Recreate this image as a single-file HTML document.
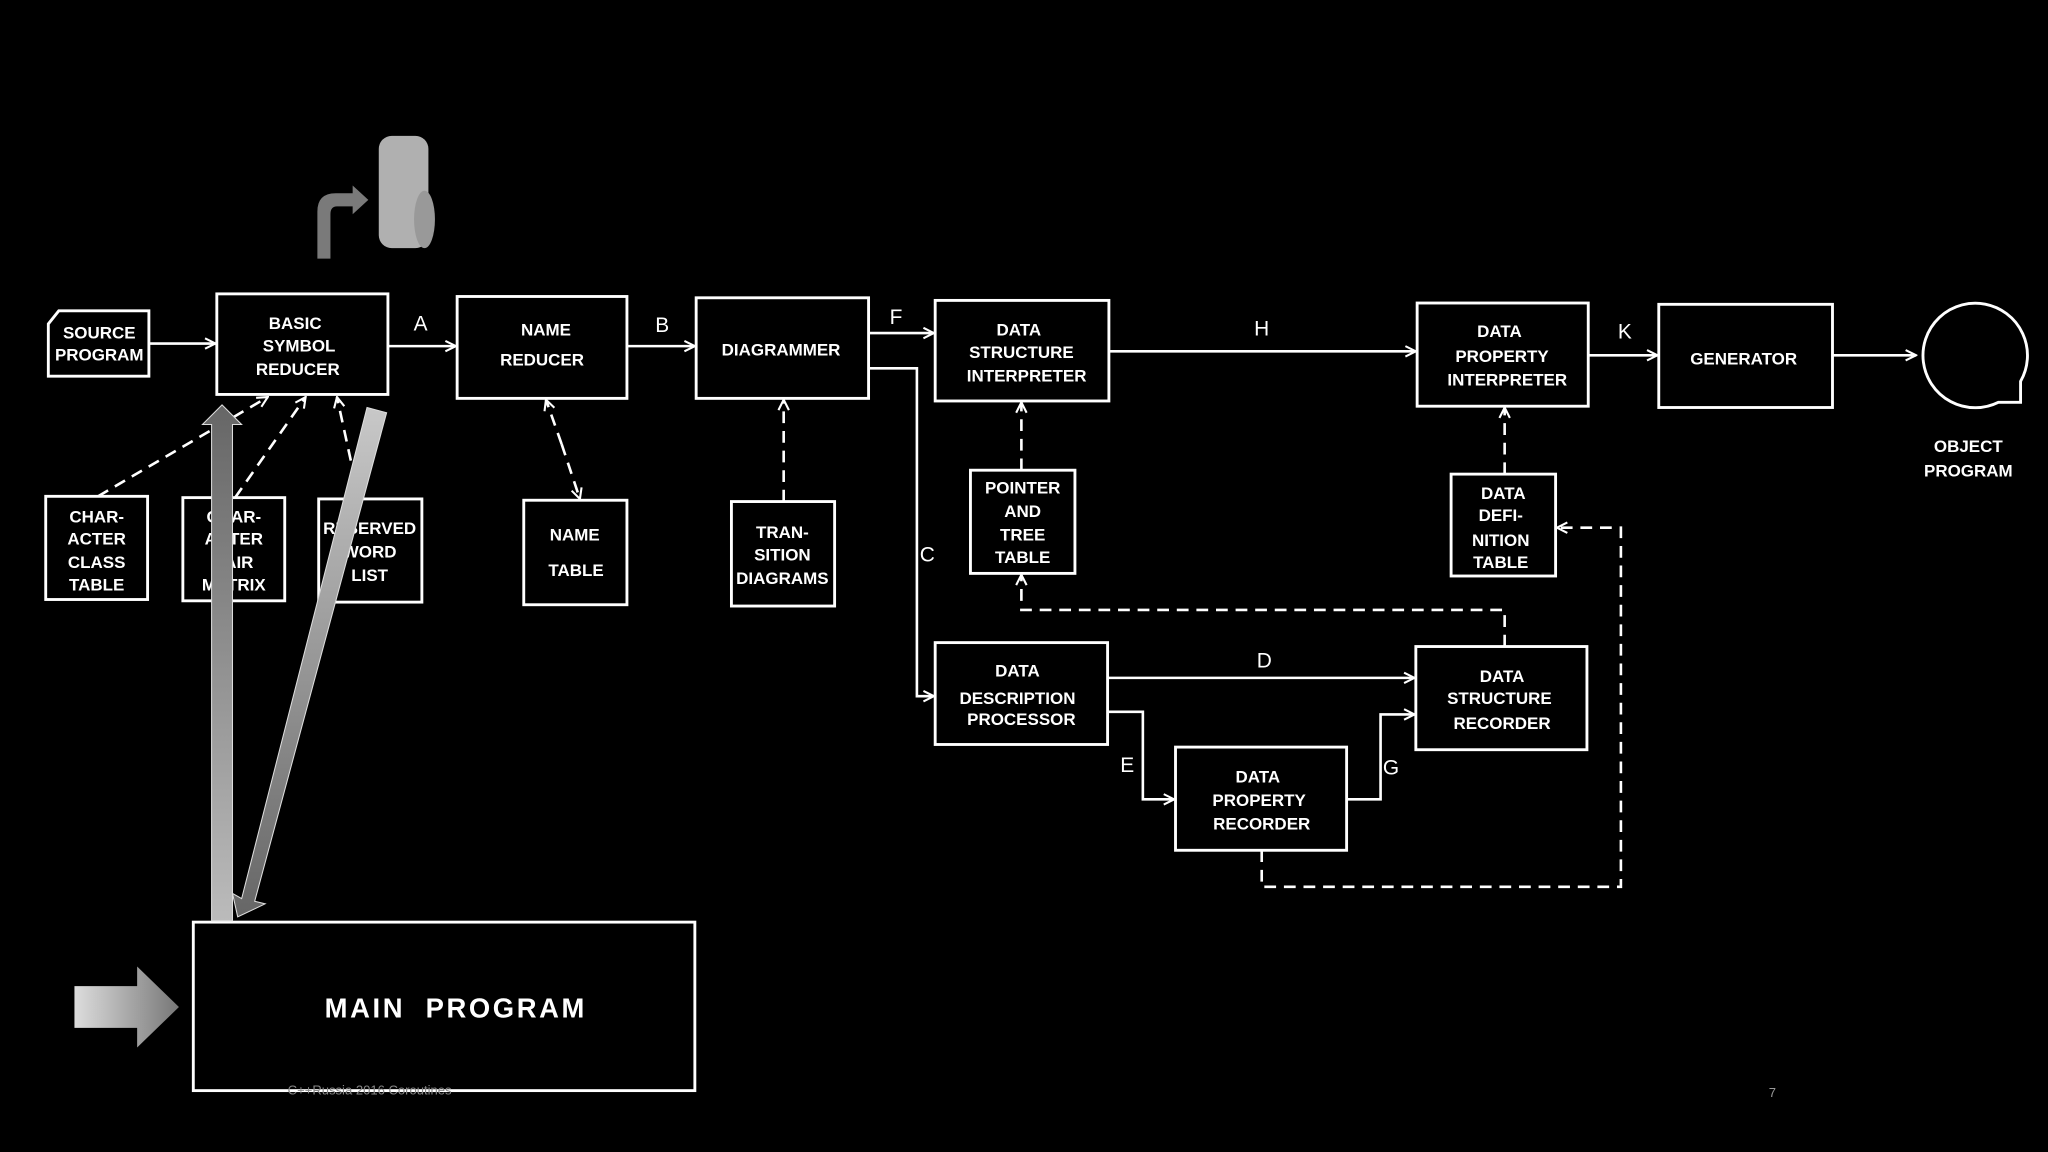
<!DOCTYPE html>
<html><head><meta charset="utf-8"><style>
html,body{margin:0;padding:0;background:#000;width:2048px;height:1152px;overflow:hidden}
svg{display:block}
text{font-family:"Liberation Sans",sans-serif;font-weight:bold;fill:#fff;text-anchor:middle}
.b{fill:none;stroke:#fff;stroke-width:2.2}
.l{fill:none;stroke:#fff;stroke-width:2}
.d{fill:none;stroke:#fff;stroke-width:2;stroke-dasharray:9 6}
.t{font-size:13px;letter-spacing:0}
.lab{font-size:16px;font-weight:normal}
</style></head><body>
<svg width="2048" height="1152" viewBox="0 0 1568 882" xmlns="http://www.w3.org/2000/svg">
<defs>
<marker id="a" markerWidth="10" markerHeight="10" refX="9" refY="5" orient="auto" markerUnits="userSpaceOnUse"><path d="M1,1 L9,5 L1,9" fill="none" stroke="#fff" stroke-width="1.6"/></marker>
<linearGradient id="g1" x1="0" y1="0" x2="0" y2="1"><stop offset="0" stop-color="#666"/><stop offset="1" stop-color="#bbb"/></linearGradient>
<linearGradient id="g2" x1="0" y1="0" x2="0" y2="1"><stop offset="0" stop-color="#c8c8c8"/><stop offset="1" stop-color="#666"/></linearGradient>
<linearGradient id="g3" x1="0" y1="0" x2="1" y2="0"><stop offset="0" stop-color="#ddd"/><stop offset="1" stop-color="#777"/></linearGradient>
</defs>

<path class="b" d="M45,238 L114,238 L114,288 L37,288 L37,248 Z"/>
<text class="t" x="76" y="259">SOURCE</text><text class="t" x="76" y="276">PROGRAM</text>
<rect class="b" x="166" y="225" width="131" height="77"/>
<text class="t" x="226" y="252">BASIC</text><text class="t" x="229" y="269">SYMBOL</text><text class="t" x="228" y="287">REDUCER</text>
<rect class="b" x="350" y="227" width="130" height="78"/>
<text class="t" x="418" y="257">NAME</text><text class="t" x="415" y="280">REDUCER</text>
<rect class="b" x="533" y="228" width="132" height="77"/>
<text class="t" x="598" y="272">DIAGRAMMER</text>
<rect class="b" x="716" y="230" width="133" height="77"/>
<text class="t" x="780" y="257">DATA</text><text class="t" x="782" y="274">STRUCTURE</text><text class="t" x="786" y="292">INTERPRETER</text>
<rect class="b" x="1085" y="232" width="131" height="79"/>
<text class="t" x="1148" y="258">DATA</text><text class="t" x="1150" y="277">PROPERTY</text><text class="t" x="1154" y="295">INTERPRETER</text>
<rect class="b" x="1270" y="233" width="133" height="79"/>
<text class="t" x="1335" y="279">GENERATOR</text>
<path class="b" d="M1547,308 L1547,292 A40,40 0 1 0 1530,308 Z"/>
<text class="t" x="1507" y="346">OBJECT</text><text class="t" x="1507" y="365">PROGRAM</text>

<rect class="b" x="35" y="380" width="78" height="79"/>
<text class="t" x="74" y="400">CHAR-</text><text class="t" x="74" y="417">ACTER</text><text class="t" x="74" y="435">CLASS</text><text class="t" x="74" y="452">TABLE</text>
<rect class="b" x="140" y="381" width="78" height="79"/>
<text class="t" x="179" y="400">CHAR-</text><text class="t" x="179" y="417">ACTER</text><text class="t" x="179" y="435">PAIR</text><text class="t" x="179" y="452">MATRIX</text>
<rect class="b" x="244" y="382" width="79" height="79"/>
<text class="t" x="283" y="409">RESERVED</text><text class="t" x="283" y="427">WORD</text><text class="t" x="283" y="445">LIST</text>
<rect class="b" x="401" y="383" width="79" height="80"/>
<text class="t" x="440" y="414">NAME</text><text class="t" x="441" y="441">TABLE</text>
<rect class="b" x="560" y="384" width="79" height="80"/>
<text class="t" x="599" y="412">TRAN-</text><text class="t" x="599" y="429">SITION</text><text class="t" x="599" y="447">DIAGRAMS</text>
<rect class="b" x="743" y="360" width="80" height="79"/>
<text class="t" x="783" y="378">POINTER</text><text class="t" x="783" y="396">AND</text><text class="t" x="783" y="414">TREE</text><text class="t" x="783" y="431">TABLE</text>
<rect class="b" x="1111" y="363" width="80" height="78"/>
<text class="t" x="1151" y="382">DATA</text><text class="t" x="1149" y="399">DEFI-</text><text class="t" x="1149" y="418">NITION</text><text class="t" x="1149" y="435">TABLE</text>
<rect class="b" x="716" y="492" width="132" height="78"/>
<text class="t" x="779" y="518">DATA</text><text class="t" x="779" y="539">DESCRIPTION</text><text class="t" x="782" y="555">PROCESSOR</text>
<rect class="b" x="1084" y="495" width="131" height="79"/>
<text class="t" x="1150" y="522">DATA</text><text class="t" x="1148" y="539">STRUCTURE</text><text class="t" x="1150" y="558">RECORDER</text>
<rect class="b" x="900" y="572" width="131" height="79"/>
<text class="t" x="963" y="599">DATA</text><text class="t" x="964" y="617">PROPERTY</text><text class="t" x="966" y="635">RECORDER</text>

<line class="l" x1="114" y1="263" x2="165" y2="263" marker-end="url(#a)"/>
<line class="l" x1="297" y1="265" x2="349" y2="265" marker-end="url(#a)"/>
<line class="l" x1="480" y1="265" x2="532" y2="265" marker-end="url(#a)"/>
<line class="l" x1="665" y1="255" x2="715" y2="255" marker-end="url(#a)"/>
<line class="l" x1="849" y1="269" x2="1084" y2="269" marker-end="url(#a)"/>
<line class="l" x1="1216" y1="272" x2="1269" y2="272" marker-end="url(#a)"/>
<line class="l" x1="1403" y1="272" x2="1467" y2="272" marker-end="url(#a)"/>
<polyline class="l" points="665,282 702,282 702,533 715,533" marker-end="url(#a)"/>
<line class="l" x1="848" y1="519" x2="1083" y2="519" marker-end="url(#a)"/>
<polyline class="l" points="848,545 875,545 875,612 899,612" marker-end="url(#a)"/>
<polyline class="l" points="1031,612 1057,612 1057,547 1083,547" marker-end="url(#a)"/>
<text class="lab" x="322" y="253">A</text>
<text class="lab" x="507" y="254">B</text>
<text class="lab" x="686" y="248">F</text>
<text class="lab" x="966" y="257">H</text>
<text class="lab" x="1244" y="259">K</text>
<text class="lab" x="710" y="430">C</text>
<text class="lab" x="968" y="511">D</text>
<text class="lab" x="863" y="591">E</text>
<text class="lab" x="1065" y="593">G</text>

<polyline class="d" points="1152,495 1152,467 782,467 782,440" marker-end="url(#a)"/>
<line class="d" x1="782" y1="360" x2="782" y2="308" marker-end="url(#a)"/>
<line class="d" x1="1152" y1="363" x2="1152" y2="312" marker-end="url(#a)"/>
<polyline class="d" points="966,651 966,679 1241,679 1241,404 1192,404" marker-end="url(#a)"/>
<line class="d" x1="75" y1="380" x2="205" y2="304" marker-end="url(#a)"/>
<line class="d" x1="180" y1="381" x2="234" y2="304" marker-end="url(#a)"/>
<line class="d" x1="275" y1="382" x2="258" y2="304" marker-end="url(#a)"/>
<line class="d" x1="430" y1="340" x2="444" y2="382" marker-end="url(#a)"/>
<line class="d" x1="430" y1="340" x2="418" y2="306" marker-end="url(#a)"/>
<line class="d" x1="600" y1="384" x2="600" y2="306" marker-end="url(#a)"/>

<rect class="b" x="148" y="706" width="384" height="129"/>
<text x="349" y="779" style="font-size:21px;letter-spacing:2px">MAIN&#160;&#160;PROGRAM</text>

<path d="M162,705 L162,325 L155,325 L170,310 L185,325 L178,325 L178,705 Z" fill="url(#g1)" stroke="#ddd" stroke-width="0.8"/>
<path d="M281,312 L296,316 L195,690 L203,692 L182,702 L178,684 L185,688 Z" fill="url(#g2)" stroke="#ddd" stroke-width="0.8"/>
<path d="M57,755 L105,755 L105,740 L137,771 L105,802 L105,787 L57,787 Z" fill="url(#g3)"/>
<path d="M243,198 L243,162 Q243,148 257,148 L270,148 L270,142 L282,153 L270,164 L270,158 L258,158 Q253,158 253,164 L253,198 Z" fill="#7a7a7a"/>
<rect x="290" y="104" width="38" height="86" rx="10" fill="#b0b0b0"/>
<ellipse cx="325" cy="168" rx="8" ry="22" fill="#999"/>

<text x="283" y="838" style="font-size:10px;font-weight:normal;fill:#888">C++Russia 2016 Coroutines</text>
<text x="1357" y="840" style="font-size:10px;font-weight:normal;fill:#999">7</text>
</svg>
</body></html>
